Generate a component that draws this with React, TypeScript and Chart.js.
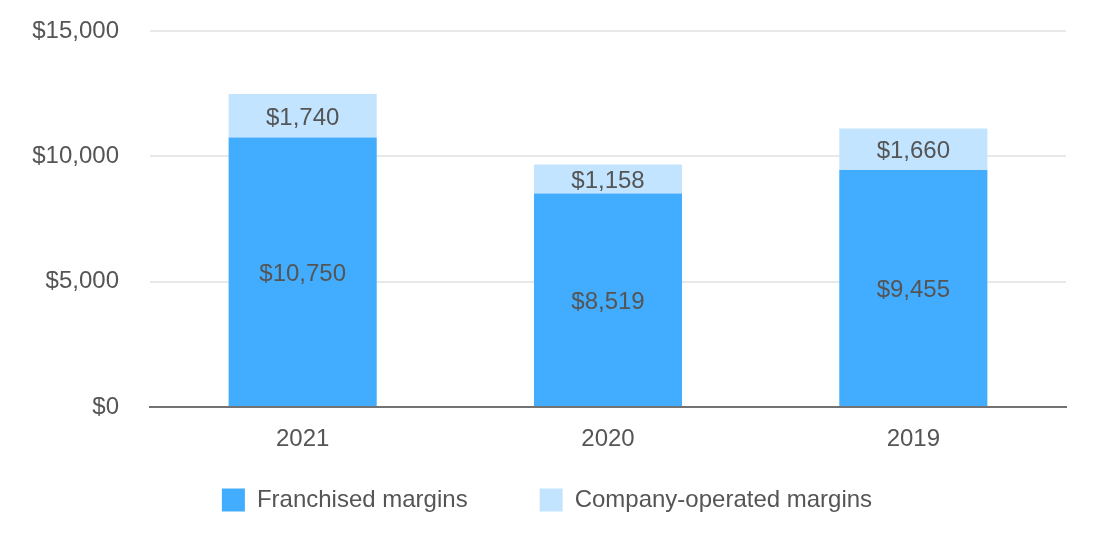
import React, { useEffect, useRef } from "react";
import { Chart, registerables } from "chart.js";

Chart.register(...registerables);

const categories = ["2021", "2020", "2019"];
const franchisedMargins = [10750, 8519, 9455];
const companyOperatedMargins = [1740, 1158, 1660];
const seriesLabels = ["Franchised margins", "Company-operated margins"];
const yTicks = [0, 5000, 10000, 15000];

const FONT = "'Liberation Sans', Arial, sans-serif";
const TEXT = "#555555";
const DARK = "#42acff";
const LIGHT = "#c2e4ff";

const fmt = (v: number) => "$" + v.toLocaleString("en-US");

const segmentLabels = {
  id: "segmentLabels",
  afterDatasetsDraw(chart: any) {
    const ctx = chart.ctx;
    ctx.save();
    ctx.font = `24px ${FONT}`;
    ctx.fillStyle = TEXT;
    ctx.textAlign = "center";
    ctx.textBaseline = "middle";
    chart.data.datasets.forEach((ds: any, di: number) => {
      const meta = chart.getDatasetMeta(di);
      meta.data.forEach((bar: any, i: number) => {
        const { x, y, base } = bar.getProps(["x", "y", "base"], true);
        ctx.fillText(fmt(ds.data[i]), x, (y + base) / 2 + 2.5);
      });
    });
    ctx.restore();
  },
};

// place the legend row (centre line at y=500) independent of the stacked layout
const legendPlacer = {
  id: "legendPlacer",
  afterLayout(chart: any) {
    const lg = chart.legend;
    if (!lg) return;
    const pad = lg.options.labels.padding;
    lg.top = 500 - pad - 12;
    lg.bottom = chart.height;
    lg.height = lg.bottom - lg.top;
    lg.left = 28;
    lg.right = 1066;
    lg.width = lg.right - lg.left;
  },
};

export default function App() {
  const ref = useRef<HTMLCanvasElement>(null);
  useEffect(() => {
    document.body.style.margin = "0";
    const chart = new Chart(ref.current!, {
      type: "bar",
      data: {
        labels: categories,
        datasets: [
          {
            label: seriesLabels[0],
            data: franchisedMargins,
            backgroundColor: DARK,
            borderWidth: 0,
          },
          {
            label: seriesLabels[1],
            data: companyOperatedMargins,
            backgroundColor: LIGHT,
            borderWidth: 0,
          },
        ],
      },
      options: {
        animation: false,
        responsive: true,
        maintainAspectRatio: false,
        layout: { padding: { top: 31, right: 30, bottom: 57, left: 0 } },
        datasets: { bar: { categoryPercentage: 1, barPercentage: 0.485 } },
        scales: {
          x: {
            stacked: true,
            grid: { display: false, drawTicks: false },
            border: { display: true, color: "#727272", width: 2 },
            ticks: { color: TEXT, font: { family: FONT, size: 24 }, padding: 18 },
            afterFit: (s: any) => {
              s.height = 50;
            },
          },
          y: {
            stacked: true,
            min: 0,
            max: 15000,
            afterBuildTicks: (s: any) => {
              s.ticks = yTicks.map((v) => ({ value: v }));
            },
            grid: {
              color: "#e8e8e8",
              lineWidth: 2,
              drawTicks: true,
              tickLength: 15,
              tickColor: "rgba(0,0,0,0)",
            },
            border: { display: false },
            ticks: {
              color: TEXT,
              font: { family: FONT, size: 24 },
              padding: 16,
              callback: (v: any) => fmt(Number(v)),
            },
            afterFit: (s: any) => {
              s.width = 150;
            },
          },
        },
        plugins: {
          legend: {
            position: "bottom",
            maxHeight: 40,
            labels: {
              color: TEXT,
              font: { family: FONT, size: 24 },
              boxWidth: 23,
              boxHeight: 23,
              padding: 72,
            },
          },
          tooltip: { enabled: false },
        },
      },
      plugins: [segmentLabels, legendPlacer],
    });
    return () => chart.destroy();
  }, []);
  return (
    <div style={{ width: 1096, height: 554, position: "relative" }}>
      <canvas ref={ref} />
    </div>
  );
}
